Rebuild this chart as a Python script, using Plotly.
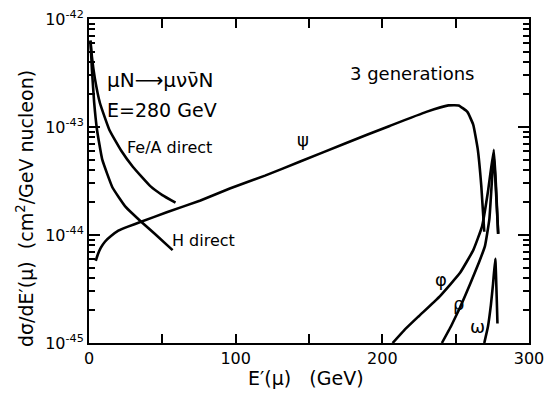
import plotly.graph_objects as go

# --- data (E' in GeV, dsigma/dE' in cm^2/GeV nucleon) ---
fe_E = [1, 2, 4, 7.5, 14, 22, 30, 42, 50, 59]
fe_y = [10**v for v in [-42.2, -42.35, -42.55, -42.78, -43.03, -43.22, -43.37, -43.55, -43.63, -43.70]]

h_E = [1, 2, 3.5, 5.5, 9, 16, 25, 35, 45, 57]
h_y = [10**v for v in [-42.2, -42.47, -42.77, -43.03, -43.3, -43.56, -43.74, -43.87, -43.99, -44.14]]

psi_E = [4.6, 6, 8, 11, 15, 20, 27, 35, 53, 76, 96, 120, 144, 175, 205, 230, 245, 252, 258, 262, 265, 267.5, 269.5]
psi_y = [10**v for v in [-44.24, -44.18, -44.12, -44.06, -44.01, -43.96, -43.92, -43.88, -43.79, -43.68, -43.57,
                         -43.45, -43.32, -43.15, -42.99, -42.86, -42.80, -42.80, -42.86, -42.98, -43.2, -43.55, -43.97]]

phi_E = [207, 215, 225, 239, 253, 262, 268, 272, 276, 277.5, 279]
phi_y = [10**v for v in [-45, -44.88, -44.75, -44.57, -44.35, -44.14, -43.92, -43.6, -43.21, -43.55, -43.99]]

rho_E = [240.6, 247, 253, 260, 266, 270, 273, 276, 277.5, 279]
rho_y = [10**v for v in [-45, -44.84, -44.67, -44.45, -44.25, -44.1, -43.85, -43.25, -43.6, -43.99]]

omega_E = [269.5, 272, 274, 275.5, 277, 278.5]
omega_y = [10**v for v in [-45, -44.85, -44.65, -44.45, -44.22, -44.82]]

x_ticks = [0, 100, 200, 300]
x_minor = [50, 150, 250]
y_ticks = [1e-45, 1e-44, 1e-43, 1e-42]
y_ticktext = ["10<sup>-45</sup>", "10<sup>-44</sup>", "10<sup>-43</sup>", "10<sup>-42</sup>"]
y_minor = [m * 10**d for d in (-45, -44, -43) for m in range(2, 10)]

FONT = "DejaVu Sans"

fig = go.Figure()
for xs, ys in [(fe_E, fe_y), (h_E, h_y), (psi_E, psi_y), (phi_E, phi_y), (rho_E, rho_y), (omega_E, omega_y)]:
    fig.add_trace(go.Scatter(x=xs, y=ys, mode="lines",
                             line=dict(color="black", width=2.6, shape="spline", smoothing=0.35),
                             showlegend=False, hoverinfo="skip"))

fig.update_layout(
    width=549, height=405,
    margin=dict(l=89, r=20, t=19, b=62),
    paper_bgcolor="white", plot_bgcolor="white",
    showlegend=False,
    font=dict(family=FONT, color="black", size=16),
    xaxis=dict(range=[0, 300], tickvals=x_ticks, ticktext=[str(v) for v in x_ticks],
               ticks="inside", ticklen=9, tickwidth=1.5, tickcolor="black",
               showline=True, linecolor="black", linewidth=2, mirror="ticks",
               showgrid=False, zeroline=False, automargin=False,
               minor=dict(tickvals=x_minor, ticks="inside", ticklen=9, tickwidth=1.5, tickcolor="black", showgrid=False),
               tickfont=dict(size=16, family=FONT)),
    yaxis=dict(type="log", range=[-45, -42], tickvals=y_ticks, ticktext=y_ticktext,
               ticks="inside", ticklen=11, tickwidth=1.5, tickcolor="black",
               showline=True, linecolor="black", linewidth=2, mirror="ticks",
               showgrid=False, zeroline=False, automargin=False,
               minor=dict(tickvals=y_minor, ticks="inside", ticklen=6, tickwidth=1.5, tickcolor="black", showgrid=False),
               tickfont=dict(size=16, family=FONT)),
)

ann = [
    dict(x=10.9, y=-42.565, text="μN⟶μνν\u0304N", xanchor="left", size=20),
    dict(x=10.9, y=-42.84, text="E=280 GeV", xanchor="left", size=19),
    dict(x=220, y=-42.5, text="3 generations", xanchor="center", size=18),
    dict(x=24.5, y=-43.19, text="Fe/A direct", xanchor="left", size=16),
    dict(x=55.2, y=-44.05, text="H direct", xanchor="left", size=16),
    dict(x=145.9, y=-43.12, text="ψ", xanchor="center", size=18),
    dict(x=240, y=-44.41, text="φ", xanchor="center", size=18),
    dict(x=251.6, y=-44.63, text="ρ", xanchor="center", size=18),
    dict(x=265.2, y=-44.85, text="ω", xanchor="center", size=18),
]
for a in ann:
    fig.add_annotation(x=a["x"], y=a["y"], xref="x", yref="y", text=a["text"], showarrow=False,
                       xanchor=a["xanchor"], yanchor="middle", font=dict(size=a["size"], family=FONT))

fig.add_annotation(x=-0.145, y=0.414, xref="paper", yref="paper",
                   text="dσ/dE′(μ)  (cm<sup>2</sup>/GeV nucleon)", textangle=-90,
                   showarrow=False, xanchor="center", yanchor="middle", font=dict(size=19, family=FONT))
fig.add_annotation(x=0.493, y=-0.108, xref="paper", yref="paper",
                   text="E′(μ)   (GeV)", showarrow=False, xanchor="center", yanchor="middle",
                   font=dict(size=19, family=FONT))

fig.write_html("out.html")
